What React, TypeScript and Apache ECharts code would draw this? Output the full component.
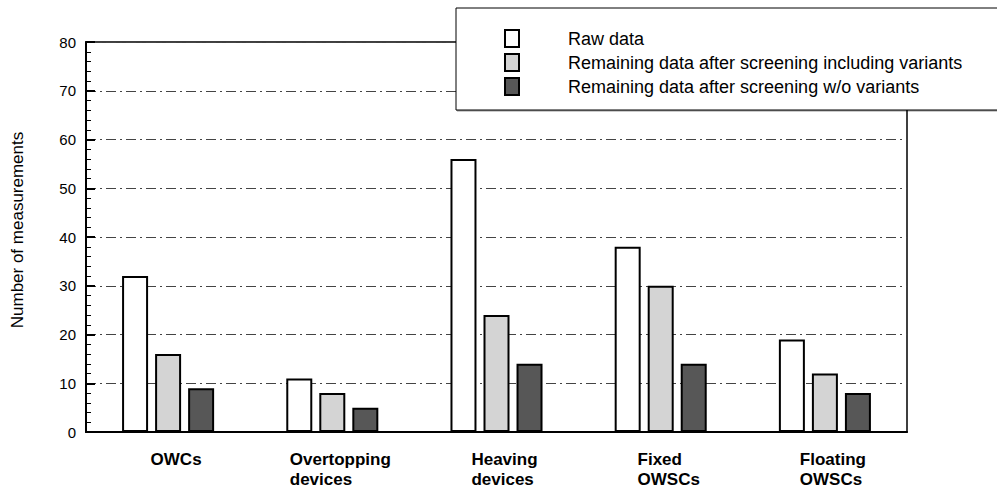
import React, { useEffect, useRef } from "react";
import * as echarts from "echarts";

const categories = ["OWCs", "Overtopping\ndevices", "Heaving\ndevices", "Fixed\nOWSCs", "Floating\nOWSCs"];
const seriesNames = [
  "Raw data",
  "Remaining data after screening including variants",
  "Remaining data after screening w/o variants",
];
const rawData = [32, 11, 56, 38, 19];
const inclVariants = [16, 8, 24, 30, 12];
const woVariants = [9, 5, 14, 14, 8];
const yTicks = [0, 10, 20, 30, 40, 50, 60, 70, 80];

const FONT = "'Liberation Sans', Arial, Helvetica, sans-serif";
const colors = ["#ffffff", "#d4d4d4", "#575757"];

export default function App() {
  const ref = useRef<HTMLDivElement>(null);
  useEffect(() => {
    if (!ref.current) return;
    const chart = echarts.init(ref.current, undefined, { renderer: "svg" });
    const values = [rawData, inclVariants, woVariants];
    chart.setOption({
      animation: false,
      backgroundColor: "#ffffff",
      textStyle: { fontFamily: FONT },
      grid: {
        left: 86,
        right: 90,
        top: 42,
        bottom: 57,
        show: true,
        borderColor: "#000",
        borderWidth: 1.5,
        backgroundColor: "transparent",
      },
      legend: {
        orient: "vertical",
        left: 456,
        top: 8,
        padding: [21, 90, 14, 48],
        itemWidth: 14,
        itemHeight: 17,
        itemGap: 5,
        icon: "rect",
        backgroundColor: "#ffffff",
        borderColor: "#000",
        borderWidth: 1,
        shadowColor: "rgba(0,0,0,0.4)",
        shadowOffsetX: 1,
        shadowOffsetY: 1,
        z: 10,
        data: seriesNames,
        textStyle: {
          fontFamily: FONT,
          fontSize: 18,
          lineHeight: 18,
          color: "#000",
          padding: [0, 0, 0, 44],
        },
      },
      xAxis: {
        type: "category",
        data: categories,
        axisLine: { lineStyle: { color: "#000", width: 2 } },
        axisTick: { show: false },
        axisLabel: {
          margin: 17,
          interval: 0,
          padding: [0, 0, 0, 16],
          formatter: (v: string) =>
            v
              .split("\n")
              .map((l) => `{a|${l}}`)
              .join("\n"),
          rich: {
            a: {
              align: "left",
              fontFamily: FONT,
              fontWeight: "bold",
              fontSize: 17,
              lineHeight: 20,
              color: "#000",
            },
          },
        },
      },
      yAxis: {
        type: "value",
        min: yTicks[0],
        max: yTicks[yTicks.length - 1],
        interval: 10,
        name: "Number of measurements",
        nameLocation: "middle",
        nameRotate: 90,
        nameGap: 60,
        nameTextStyle: { fontFamily: FONT, fontSize: 17, color: "#000", padding: [0, 0, 0, 14] },
        axisLine: { show: true, lineStyle: { color: "#000", width: 2 } },
        axisTick: { show: true, inside: true, length: 9, lineStyle: { color: "#000", width: 2 } },
        minorTick: { show: true, splitNumber: 5, length: 5, lineStyle: { color: "#000", width: 1 } },
        axisLabel: { fontFamily: FONT, fontSize: 15, color: "#000", margin: 10 },
        splitLine: {
          show: true,
          lineStyle: { color: "#444", width: 1, type: [10, 4, 2, 4] },
        },
      },
      series: seriesNames.map((name, i) => ({
        name,
        type: "bar",
        data: values[i],
        barWidth: 26,
        barGap: "27%",
        itemStyle: { color: colors[i], borderColor: "#000", borderWidth: 2 },
      })),
    });
    return () => chart.dispose();
  }, []);
  return <div ref={ref} style={{ width: 997, height: 489, position: "absolute", left: 0, top: 0 }} />;
}
